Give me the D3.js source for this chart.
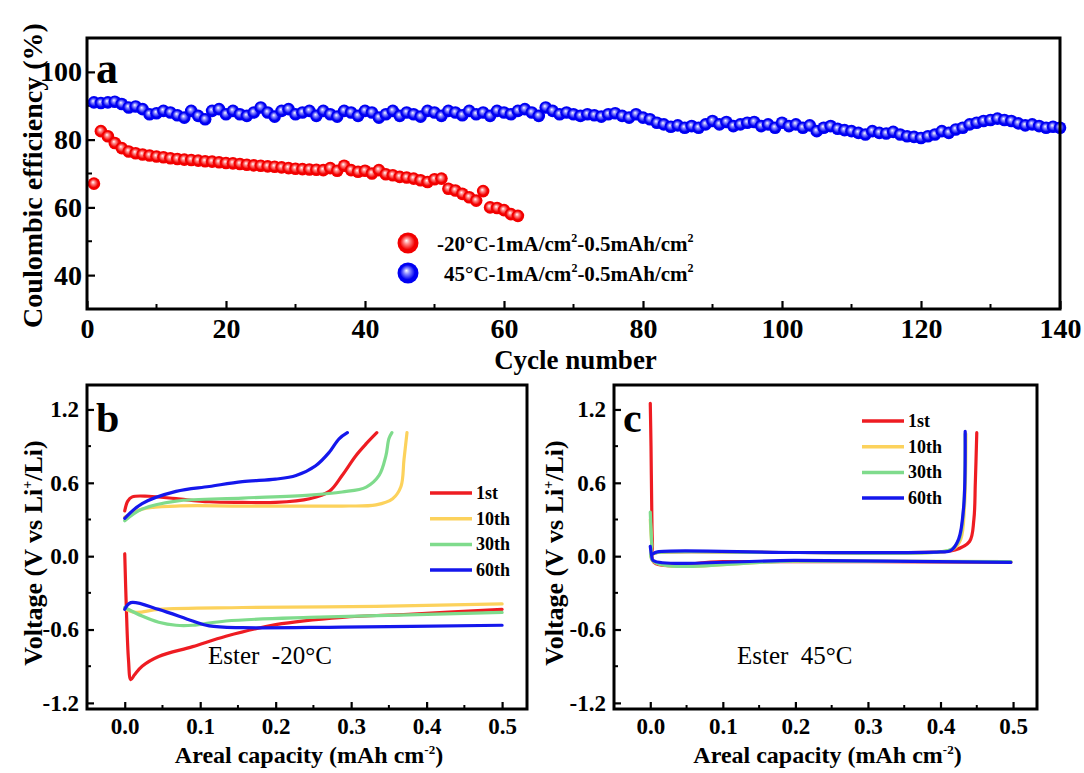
<!DOCTYPE html>
<html>
<head>
<meta charset="utf-8">
<script src="https://cdn.jsdelivr.net/npm/d3@7"></script>
<style>
  body { margin: 0; background: #fff; }
  svg { display: block; }
  text { font-family: "Liberation Serif", "Times New Roman", serif; fill: #000; }
</style>
</head>
<body>
<svg id="fig" width="1084" height="773"></svg>
<script>
// ---------- (a) Coulombic efficiency vs cycle number ----------
const cycleTicks = [0, 20, 40, 60, 80, 100, 120, 140];
const cycleMinorTicks = [10, 30, 50, 70, 90, 110, 130];
const ceTicks = [40, 60, 80, 100];
const ceMinorTicks = [50, 70, 90];

// -20 °C, cycles 1..62
const coldCE = [
  67.0, 82.5, 81.0, 79.0, 77.5, 76.5, 76.0, 75.6, 75.3, 75.0,
  74.8, 74.5, 74.3, 74.1, 74.0, 73.8, 73.6, 73.5, 73.3, 73.1,
  73.0, 72.8, 72.6, 72.4, 72.3, 72.1, 72.0, 71.8, 71.6, 71.4,
  71.3, 71.2, 71.1, 71.0, 71.6, 70.8, 72.3, 71.0, 70.5, 70.8,
  70.0, 71.0, 69.8, 69.5, 69.0, 68.8, 68.5, 68.0, 67.5, 68.3,
  68.5, 65.5, 65.0, 64.0, 63.0, 62.0, 64.8, 60.0, 59.8, 59.2,
  58.0, 57.5
];

// 45 °C, cycles 1..140
const hotCE = [
  91.0, 90.8, 91.0, 91.2, 90.5, 89.5, 89.8, 89.0, 87.5, 87.8,
  88.5, 88.0, 87.2, 86.5, 88.5, 87.0, 86.0, 88.5, 89.0, 87.5,
  88.5, 87.5, 87.0, 88.0, 89.5, 88.0, 86.8, 88.5, 89.0, 87.5,
  88.0, 88.5, 87.0, 88.5, 87.5, 86.8, 88.5, 88.0, 87.0, 88.5,
  88.0, 86.5, 87.5, 88.5, 87.0, 88.0, 87.5, 86.8, 88.5, 88.0,
  87.0, 88.5, 88.0, 87.2, 88.5, 87.5, 88.0, 87.0, 88.5, 88.0,
  87.5, 88.5, 89.0, 88.0, 87.0, 89.5, 88.5, 87.5, 88.0, 87.5,
  87.0, 87.5, 87.2, 86.8, 87.5, 87.8, 87.0, 86.5, 87.5, 86.5,
  86.0, 85.0, 84.5, 83.8, 84.2, 83.5, 84.0, 83.5, 84.5, 85.5,
  84.5, 85.2, 84.0, 84.5, 85.0, 85.2, 84.0, 84.5, 83.5, 85.0,
  84.0, 84.5, 83.5, 84.2, 82.5, 83.5, 84.0, 83.2, 82.8, 82.5,
  82.0, 81.5, 82.5, 82.0, 81.8, 82.3, 81.5, 81.0, 80.8, 80.5,
  81.0, 81.5, 82.5, 82.0, 83.0, 83.5, 84.5, 85.0, 85.5, 85.8,
  86.2, 85.8, 85.5, 84.8, 84.2, 84.5, 84.0, 83.5, 83.8, 83.5
];

// ---------- (b), (c) voltage profiles ----------
const capTicks = [0, 0.1, 0.2, 0.3, 0.4, 0.5];
const capMinorTicks = [0.05, 0.15, 0.25, 0.35, 0.45];
const voltTicks = [-1.2, -0.6, 0, 0.6, 1.2];
const voltTickLabels = ["-1.2", "-0.6", "0.0", "0.6", "1.2"];
const voltMinorTicks = [-0.9, -0.3, 0.3, 0.9];
const cycleNames = ["1st", "10th", "30th", "60th"];
const cycleColors = ["#ee1c22", "#fcd25c", "#7fdb8c", "#1417ec"];

// -20 °C: [capacity (mAh cm-2), voltage (V)]
const cold1stDis = [[0, 0.02], [0.002, -0.4], [0.005, -0.85], [0.008, -1.01], [0.013, -0.97], [0.023, -0.9], [0.045, -0.82], [0.09, -0.74], [0.134, -0.655], [0.2, -0.56], [0.288, -0.5], [0.376, -0.475], [0.5, -0.435]];
const cold1stChg = [[0, 0.37], [0.004, 0.45], [0.01, 0.485], [0.032, 0.49], [0.068, 0.47], [0.112, 0.445], [0.156, 0.44], [0.2, 0.44], [0.245, 0.47], [0.271, 0.53], [0.288, 0.66], [0.306, 0.82], [0.32, 0.92], [0.334, 1.01]];
const cold10Dis = [[0, -0.43], [0.015, -0.46], [0.045, -0.435], [0.156, -0.42], [0.333, -0.41], [0.5, -0.39]];
const cold10Chg = [[0, 0.32], [0.023, 0.385], [0.068, 0.41], [0.156, 0.41], [0.288, 0.41], [0.333, 0.42], [0.355, 0.47], [0.366, 0.57], [0.37, 0.79], [0.374, 1.01]];
const cold30Dis = [[0, -0.42], [0.023, -0.49], [0.045, -0.54], [0.068, -0.565], [0.09, -0.565], [0.134, -0.53], [0.245, -0.5], [0.376, -0.48], [0.5, -0.46]];
const cold30Chg = [[0, 0.29], [0.023, 0.385], [0.068, 0.45], [0.156, 0.475], [0.245, 0.5], [0.288, 0.525], [0.32, 0.565], [0.337, 0.66], [0.346, 0.82], [0.35, 0.96], [0.354, 1.01]];
const cold60Dis = [[0, -0.435], [0.008, -0.38], [0.045, -0.435], [0.09, -0.53], [0.112, -0.57], [0.156, -0.585], [0.288, -0.58], [0.5, -0.565]];
const cold60Chg = [[0, 0.31], [0.023, 0.43], [0.068, 0.53], [0.112, 0.57], [0.156, 0.61], [0.2, 0.63], [0.227, 0.66], [0.253, 0.74], [0.271, 0.85], [0.284, 0.96], [0.295, 1.01]];

// 45 °C
const hot1stDis = [[0, 1.25], [0.001, 0.9], [0.002, 0.4], [0.003, 0.1], [0.005, -0.05], [0.1, -0.045], [0.3, -0.045], [0.497, -0.05]];
const hot1stChg = [[0.004, 0.02], [0.01, 0.03], [0.2, 0.03], [0.4, 0.035], [0.42, 0.05], [0.44, 0.12], [0.446, 0.3], [0.448, 0.6], [0.45, 1.01]];
const hot10Dis = [[0, 0.3], [0.002, 0.1], [0.004, -0.04], [0.2, -0.04], [0.497, -0.045]];
const hot10Chg = [[0.004, 0.02], [0.01, 0.03], [0.2, 0.03], [0.4, 0.035], [0.418, 0.06], [0.428, 0.14], [0.433, 0.4], [0.435, 1.0]];
const hot30Dis = [[0, 0.36], [0.002, 0.1], [0.004, -0.04], [0.2, -0.04], [0.497, -0.045]];
const hot30Chg = [[0.004, 0.02], [0.01, 0.03], [0.2, 0.03], [0.4, 0.035], [0.416, 0.06], [0.426, 0.14], [0.432, 0.4], [0.434, 1.0]];
const hot60Dis = [[0, 0.08], [0.002, 0.0], [0.004, -0.035], [0.2, -0.035], [0.497, -0.05]];
const hot60Chg = [[0.004, 0.02], [0.01, 0.035], [0.2, 0.03], [0.4, 0.035], [0.414, 0.045], [0.425, 0.14], [0.432, 0.41], [0.434, 1.02]];

const coldCurves = [[cold1stDis, cold1stChg], [cold10Dis, cold10Chg], [cold30Dis, cold30Chg], [cold60Dis, cold60Chg]];
const hotCurves = [[hot1stDis, hot1stChg], [hot10Dis, hot10Chg], [hot30Dis, hot30Chg], [hot60Dis, hot60Chg]];

// ---------- drawing ----------
const svg = d3.select("#fig");
const defs = svg.append("defs");

function ballGradient(id, base, mid) {
  const g = defs.append("radialGradient").attr("id", id)
    .attr("cx", "50%").attr("cy", "50%").attr("r", "50%")
    .attr("fx", "42%").attr("fy", "38%");
  g.append("stop").attr("offset", "0%").attr("stop-color", "#ffffff");
  g.append("stop").attr("offset", "28%").attr("stop-color", mid);
  g.append("stop").attr("offset", "70%").attr("stop-color", base);
  g.append("stop").attr("offset", "100%").attr("stop-color", base);
}
ballGradient("ballRed", "#f20000", "#ff8a8a");
ballGradient("ballBlue", "#0000f2", "#8c8cff");

function styleAxis(g, size) {
  g.select(".domain").remove();
  g.selectAll(".tick line").attr("stroke", "#000").attr("stroke-width", 2.2);
  g.selectAll(".tick text")
    .attr("font-family", "Liberation Serif, Times New Roman, serif")
    .attr("font-weight", "bold").attr("font-size", size).attr("fill", "#000");
}

function minorTicks(g, scale, values, orient, len) {
  g.selectAll(null).data(values).enter().append("line")
    .attr("stroke", "#000").attr("stroke-width", 2)
    .each(function (d) {
      const s = d3.select(this);
      if (orient === "x") s.attr("x1", scale(d)).attr("x2", scale(d)).attr("y1", 0).attr("y2", -len);
      else s.attr("y1", scale(d)).attr("y2", scale(d)).attr("x1", 0).attr("x2", len);
    });
}

function frame(l, t, r, b) {
  svg.append("rect").attr("x", l).attr("y", t).attr("width", r - l).attr("height", b - t)
    .attr("fill", "none").attr("stroke", "#000").attr("stroke-width", 3);
}

// Panel a
const A = { l: 87, t: 38, r: 1060, b: 309 };
const xA = d3.scaleLinear().domain([0, 140]).range([A.l, A.r]);
const yA = d3.scaleLinear().domain([30, 110]).range([A.b, A.t]);

const gxA = svg.append("g").attr("transform", `translate(0,${A.b})`)
  .call(d3.axisBottom(xA).tickValues(cycleTicks).tickFormat(d3.format("d"))
    .tickSizeInner(-8).tickSizeOuter(0).tickPadding(9));
styleAxis(gxA, 28);
minorTicks(gxA, xA, cycleMinorTicks, "x", 5);

const gyA = svg.append("g").attr("transform", `translate(${A.l},0)`)
  .call(d3.axisLeft(yA).tickValues(ceTicks).tickFormat(d3.format("d"))
    .tickSizeInner(-8).tickSizeOuter(0).tickPadding(5));
styleAxis(gyA, 28);
minorTicks(gyA, yA, ceMinorTicks, "y", 5);

const ballR = 6.3;
svg.append("g").selectAll("circle").data(coldCE).enter().append("circle")
  .attr("cx", (d, i) => xA(i + 1)).attr("cy", d => yA(d)).attr("r", ballR)
  .attr("fill", "url(#ballRed)");
svg.append("g").selectAll("circle").data(hotCE).enter().append("circle")
  .attr("cx", (d, i) => xA(i + 1)).attr("cy", d => yA(d)).attr("r", ballR)
  .attr("fill", "url(#ballBlue)");

frame(A.l, A.t, A.r, A.b);

svg.append("text").attr("x", 96).attr("y", 83).attr("font-size", 44).attr("font-weight", "bold").text("a");

svg.append("text").attr("transform", `translate(42,${(A.t + A.b) / 2 + 2}) rotate(-90)`)
  .attr("text-anchor", "middle").attr("font-size", 28).attr("font-weight", "bold")
  .text("Coulombic efficiency (%)");
svg.append("text").attr("x", (A.l + A.r) / 2 + 2).attr("y", 369)
  .attr("text-anchor", "middle").attr("font-size", 27).attr("font-weight", "bold")
  .text("Cycle number");

// legend of panel a
function unitLabel(x, y, lead) {
  const t = svg.append("text").attr("x", x).attr("y", y).attr("font-size", 21).attr("font-weight", "bold");
  t.append("tspan").text(lead + "-1mA/cm");
  t.append("tspan").attr("dy", -9).attr("font-size", 12).text("2");
  t.append("tspan").attr("dy", 9).text("-0.5mAh/cm");
  t.append("tspan").attr("dy", -9).attr("font-size", 12).text("2");
}
const legA = [{ grad: "url(#ballRed)", y: 243, lead: "-20°C", x: 437 },
              { grad: "url(#ballBlue)", y: 273, lead: "45°C", x: 444 }];
legA.forEach(d => {
  svg.append("circle").attr("cx", 408).attr("cy", d.y).attr("r", 10.5).attr("fill", d.grad);
  unitLabel(d.x, d.y + 8, d.lead);
});

// Panels b and c
function voltagePanel(P, curves, letter, note, noteX, legX, legY0) {
  const x = d3.scaleLinear().domain([-0.05, 0.533]).range([P.l, P.r]);
  const y = d3.scaleLinear().domain([-1.25, 1.4]).range([P.b, P.t]);

  const gx = svg.append("g").attr("transform", `translate(0,${P.b})`)
    .call(d3.axisBottom(x).tickValues(capTicks).tickFormat(d3.format(".1f"))
      .tickSizeInner(-7).tickSizeOuter(0).tickPadding(9));
  styleAxis(gx, 23);
  minorTicks(gx, x, capMinorTicks, "x", 4);

  const gy = svg.append("g").attr("transform", `translate(${P.l},0)`)
    .call(d3.axisLeft(y).tickValues(voltTicks).tickFormat((d, i) => voltTickLabels[i])
      .tickSizeInner(-7).tickSizeOuter(0).tickPadding(8));
  styleAxis(gy, 23);
  minorTicks(gy, y, voltMinorTicks, "y", 4);

  const line = d3.line().x(d => x(d[0])).y(d => y(d[1])).curve(d3.curveCatmullRom.alpha(0.5));
  const cg = svg.append("g").attr("fill", "none").attr("stroke-width", 3.2)
    .attr("stroke-linejoin", "round").attr("stroke-linecap", "round");
  curves.forEach((pair, i) => {
    pair.forEach(seg => cg.append("path").attr("d", line(seg)).attr("stroke", cycleColors[i]));
  });

  frame(P.l, P.t, P.r, P.b);

  svg.append("text").attr("x", P.l + 9).attr("y", P.t + 47).attr("font-size", 42)
    .attr("font-weight", "bold").text(letter);

  svg.append("text").attr("x", noteX).attr("y", 664).attr("font-size", 25)
    .style("white-space", "pre").text(note);

  const lg = svg.append("g");
  cycleNames.forEach((name, i) => {
    const ly = legY0 + i * 25.7;
    lg.append("line").attr("x1", legX).attr("x2", legX + 42).attr("y1", ly).attr("y2", ly)
      .attr("stroke", cycleColors[i]).attr("stroke-width", 3.5);
    lg.append("text").attr("x", legX + 46).attr("y", ly + 6).attr("font-size", 18)
      .attr("font-weight", "bold").text(name);
  });

  const tx = svg.append("text").attr("x", (P.l + P.r) / 2 + 2).attr("y", 763)
    .attr("text-anchor", "middle").attr("font-size", 24).attr("font-weight", "bold");
  tx.append("tspan").text("Areal capacity (mAh cm");
  tx.append("tspan").attr("dy", -9).attr("font-size", 13).text("-2");
  tx.append("tspan").attr("dy", 9).text(")");
}

const B = { l: 87, t: 385, r: 527, b: 709 };
const C = { l: 614, t: 385, r: 1037, b: 709 };
voltagePanel(B, coldCurves, "b", "Ester  -20°C", 208, 430, 493);
voltagePanel(C, hotCurves, "c", "Ester  45°C", 737, 862, 421);

function voltTitle(cx) {
  const t = svg.append("text").attr("transform", `translate(${cx},${(B.t + B.b) / 2 + 6}) rotate(-90)`)
    .attr("text-anchor", "middle").attr("font-size", 26).attr("font-weight", "bold");
  t.append("tspan").text("Voltage (V vs Li");
  t.append("tspan").attr("dy", -10).attr("font-size", 14).text("+");
  t.append("tspan").attr("dy", 10).text("/Li)");
}
voltTitle(42);
voltTitle(563);
</script>
</body>
</html>
